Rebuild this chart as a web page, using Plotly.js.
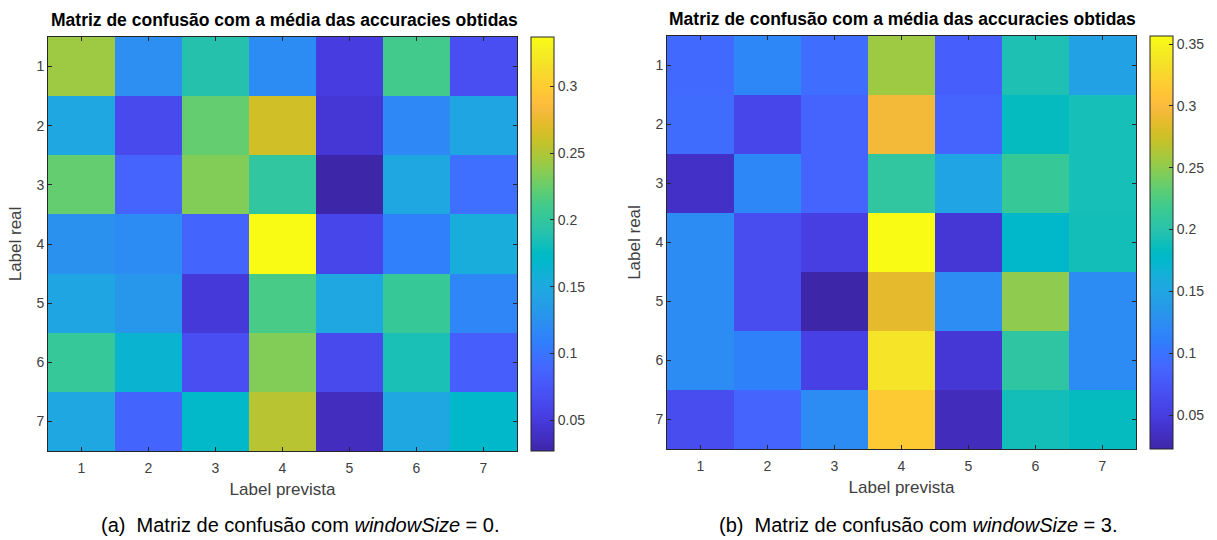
<!DOCTYPE html>
<html>
<head>
<meta charset="utf-8">
<script src="https://cdn.plot.ly/plotly-3.0.1.min.js"></script>
<style>html,body{margin:0;padding:0;background:#fff;}#chart{width:1217px;height:540px;}</style>
</head>
<body>
<div id="chart"></div>
<script>
// Class labels (1..7)
const labels = [1, 2, 3, 4, 5, 6, 7];
const tickText = ['1', '2', '3', '4', '5', '6', '7'];

// Mean accuracy confusion matrix, windowSize = 0 (rows = real label, cols = predicted label)
const matWin0 = [
  [0.244, 0.123, 0.190, 0.120, 0.052, 0.210, 0.067],
  [0.148, 0.064, 0.224, 0.263, 0.047, 0.117, 0.145],
  [0.224, 0.086, 0.234, 0.199, 0.027, 0.148, 0.096],
  [0.125, 0.120, 0.088, 0.337, 0.061, 0.110, 0.155],
  [0.145, 0.130, 0.049, 0.213, 0.148, 0.204, 0.115],
  [0.203, 0.164, 0.067, 0.234, 0.064, 0.185, 0.081],
  [0.148, 0.088, 0.171, 0.253, 0.036, 0.148, 0.170]
];

// Mean accuracy confusion matrix, windowSize = 3
const matWin3 = [
  [0.091, 0.118, 0.096, 0.256, 0.081, 0.194, 0.146],
  [0.094, 0.059, 0.086, 0.295, 0.086, 0.184, 0.191],
  [0.036, 0.118, 0.086, 0.208, 0.149, 0.213, 0.191],
  [0.123, 0.065, 0.052, 0.3565, 0.044, 0.176, 0.190],
  [0.123, 0.065, 0.0225, 0.287, 0.124, 0.250, 0.122],
  [0.123, 0.113, 0.054, 0.336, 0.044, 0.206, 0.123],
  [0.065, 0.086, 0.123, 0.315, 0.031, 0.190, 0.184]
];

const cbTicks0 = [0.05, 0.1, 0.15, 0.2, 0.25, 0.3];
const cbTicks3 = [0.05, 0.1, 0.15, 0.2, 0.25, 0.3, 0.35];

const plotTitle = 'Matriz de confusão com a média das accuracies obtidas';
const xTitle = 'Label prevista';
const yTitle = 'Label real';
const captionA = '(a)&nbsp;&nbsp;Matriz de confusão com <i>windowSize</i> = 0.';
const captionB = '(b)&nbsp;&nbsp;Matriz de confusão com <i>windowSize</i> = 3.';

// MATLAB parula colormap (64 entries)
const parula = [
[0.2422,0.1504,0.6603],[0.2504,0.1650,0.7076],[0.2578,0.1818,0.7511],[0.2647,0.1978,0.7952],
[0.2706,0.2147,0.8364],[0.2751,0.2342,0.8710],[0.2783,0.2559,0.8991],[0.2803,0.2782,0.9221],
[0.2813,0.3006,0.9414],[0.2810,0.3228,0.9579],[0.2795,0.3447,0.9717],[0.2760,0.3667,0.9829],
[0.2699,0.3892,0.9906],[0.2602,0.4123,0.9952],[0.2440,0.4358,0.9988],[0.2206,0.4603,0.9973],
[0.1963,0.4847,0.9892],[0.1834,0.5074,0.9798],[0.1786,0.5289,0.9682],[0.1764,0.5499,0.9520],
[0.1687,0.5703,0.9359],[0.1540,0.5902,0.9218],[0.1460,0.6091,0.9079],[0.1380,0.6276,0.8973],
[0.1248,0.6459,0.8883],[0.1113,0.6635,0.8763],[0.0952,0.6798,0.8598],[0.0689,0.6948,0.8394],
[0.0297,0.7082,0.8163],[0.0036,0.7203,0.7917],[0.0067,0.7312,0.7660],[0.0433,0.7411,0.7394],
[0.0964,0.7500,0.7120],[0.1408,0.7584,0.6842],[0.1717,0.7670,0.6554],[0.1938,0.7758,0.6251],
[0.2161,0.7843,0.5923],[0.2470,0.7918,0.5567],[0.2906,0.7973,0.5188],[0.3406,0.8008,0.4789],
[0.3909,0.8029,0.4354],[0.4456,0.8024,0.3909],[0.5044,0.7993,0.3480],[0.5616,0.7942,0.3045],
[0.6174,0.7876,0.2612],[0.6720,0.7793,0.2227],[0.7242,0.7698,0.1910],[0.7738,0.7598,0.1646],
[0.8203,0.7498,0.1535],[0.8634,0.7406,0.1596],[0.9035,0.7330,0.1774],[0.9393,0.7288,0.2100],
[0.9728,0.7298,0.2394],[0.9956,0.7434,0.2371],[0.9970,0.7659,0.2199],[0.9952,0.7893,0.2028],
[0.9892,0.8136,0.1885],[0.9786,0.8386,0.1766],[0.9676,0.8639,0.1643],[0.9610,0.8890,0.1537],
[0.9597,0.9135,0.1423],[0.9628,0.9373,0.1265],[0.9691,0.9606,0.1064],[0.9769,0.9839,0.0805]
];
const colorscale = parula.map((c, i) => [i / (parula.length - 1),
  'rgb(' + c.map(v => Math.round(v * 255)).join(',') + ')']);

const W = 1217, H = 540;
const FONT = 'Liberation Sans, Arial, Helvetica, sans-serif';
const TXT = '#404040';
const AX = '#262626';

// Pixel geometry of the two panels
const P = [
  {x0: 48, x1: 517, y0: 37, y1: 451, cb0: 531},
  {x0: 667, x1: 1136, y0: 36, y1: 449, cb0: 1150}
];

function heat(z, xa, ya, cax) {
  return {
    type: 'heatmap', z: z, x: labels, y: labels,
    xaxis: xa, yaxis: ya, coloraxis: cax,
    hoverinfo: 'x+y+z'
  };
}

function colorAxis(z, ticks, p) {
  const flat = z.flat();
  return {
    colorscale: colorscale,
    cmin: Math.min(...flat), cmax: Math.max(...flat),
    colorbar: {
      x: p.cb0 / W, xanchor: 'left', xref: 'paper',
      y: 1 - (p.y0 + p.y1) / 2 / H, yanchor: 'middle', yref: 'paper',
      len: p.y1 - p.y0, lenmode: 'pixels',
      thickness: 23, thicknessmode: 'pixels',
      outlinewidth: 1, outlinecolor: AX,
      tickvals: ticks, ticktext: ticks.map(String),
      ticks: 'inside', ticklen: 4, tickcolor: AX,
      tickfont: {family: FONT, size: 14, color: TXT},
      xpad: 0, ypad: 0, borderwidth: 0
    }
  };
}

function xAxis(p, anchor) {
  return {
    domain: [p.x0 / W, p.x1 / W], anchor: anchor,
    range: [0.5, 7.5], tickvals: labels, ticktext: tickText,
    ticks: 'inside', ticklen: 4, tickcolor: AX, mirror: 'ticks',
    showline: true, linecolor: AX, linewidth: 1,
    showgrid: false, zeroline: false, automargin: false,
    ticklabelstandoff: 4,
    tickfont: {family: FONT, size: 14, color: TXT},
    title: {text: xTitle, font: {family: FONT, size: 17, color: TXT}, standoff: 8},
    fixedrange: true
  };
}
function yAxis(p, anchor) {
  return {
    domain: [1 - p.y1 / H, 1 - p.y0 / H], anchor: anchor,
    range: [7.5, 0.5], tickvals: labels, ticktext: tickText,
    ticks: 'inside', ticklen: 4, tickcolor: AX, mirror: 'ticks',
    showline: true, linecolor: AX, linewidth: 1,
    showgrid: false, zeroline: false, automargin: false,
    tickfont: {family: FONT, size: 14, color: TXT},
    title: {text: yTitle, font: {family: FONT, size: 17, color: TXT}, standoff: 10},
    fixedrange: true
  };
}

const data = [
  heat(matWin0, 'x', 'y', 'coloraxis'),
  heat(matWin3, 'x2', 'y2', 'coloraxis2')
];

const layout = {
  width: W, height: H,
  margin: {l: 0, r: 0, t: 0, b: 0, pad: 0, autoexpand: false},
  paper_bgcolor: '#ffffff', plot_bgcolor: '#ffffff',
  showlegend: false,
  font: {family: FONT, color: TXT},
  xaxis: xAxis(P[0], 'y'), yaxis: yAxis(P[0], 'x'),
  xaxis2: xAxis(P[1], 'y2'), yaxis2: yAxis(P[1], 'x2'),
  coloraxis: colorAxis(matWin0, cbTicks0, P[0]),
  coloraxis2: colorAxis(matWin3, cbTicks3, P[1]),
  annotations: [
    {text: '<b>' + plotTitle + '</b>', xref: 'paper', yref: 'paper',
     x: 284 / W, y: 1 - 20 / H, xanchor: 'center', yanchor: 'middle',
     showarrow: false, font: {family: FONT, size: 17.5, color: '#000'}},
    {text: '<b>' + plotTitle + '</b>', xref: 'paper', yref: 'paper',
     x: 902 / W, y: 1 - 19 / H, xanchor: 'center', yanchor: 'middle',
     showarrow: false, font: {family: FONT, size: 17.5, color: '#000'}},
    {text: captionA, xref: 'paper', yref: 'paper',
     x: 300 / W, y: 1 - 525 / H, xanchor: 'center', yanchor: 'middle',
     showarrow: false, font: {family: FONT, size: 20, color: '#000'}},
    {text: captionB, xref: 'paper', yref: 'paper',
     x: 918 / W, y: 1 - 525 / H, xanchor: 'center', yanchor: 'middle',
     showarrow: false, font: {family: FONT, size: 20, color: '#000'}}
  ]
};

Plotly.newPlot('chart', data, layout, {displayModeBar: false, staticPlot: true});
</script>
</body>
</html>
